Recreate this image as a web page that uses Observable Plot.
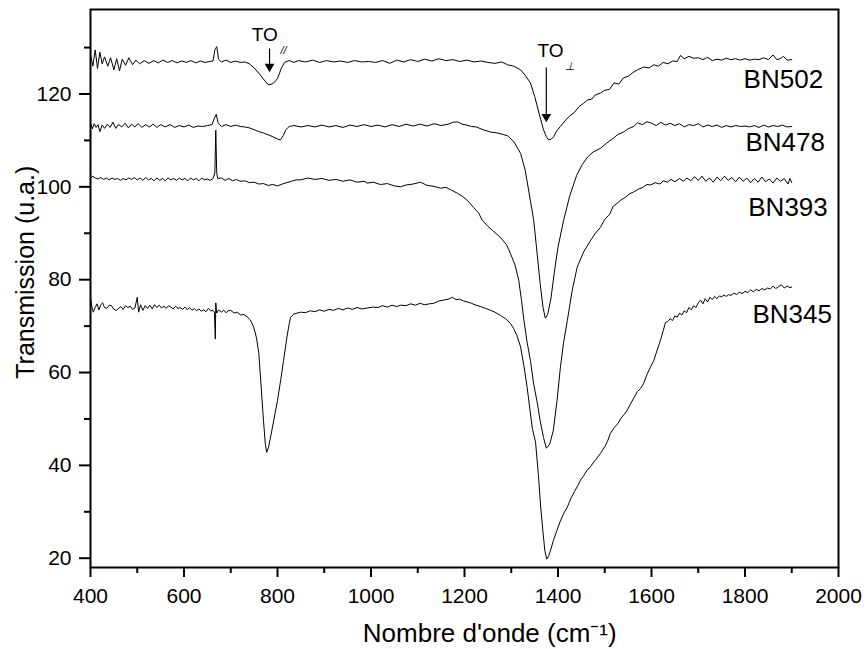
<!DOCTYPE html>
<html>
<head>
<meta charset="utf-8">
<script src="https://cdn.jsdelivr.net/npm/d3@7"></script>
<script src="https://cdn.jsdelivr.net/npm/@observablehq/plot@0.6"></script>
<style>
  html, body { margin: 0; padding: 0; background: #fff; }
  #chart { width: 865px; height: 649px; }
  #chart svg g[aria-label$="tick label"] { font-size: 21px !important; }
  #chart svg g[aria-label$="tick label"] text { font-size: 21px !important; }
</style>
</head>
<body>
<div id="chart"></div>
<script>
// ---- axis ticks ----
const xTicks = [400, 600, 800, 1000, 1200, 1400, 1600, 1800, 2000];
const xMinorTicks = [500, 700, 900, 1100, 1300, 1500, 1700, 1900];
const yTicks = [20, 40, 60, 80, 100, 120];
const yMinorTicks = [30, 50, 70, 90, 110, 130];

// ---- series (wavenumber cm-1, transmission u.a.) ----
const seriesNames = ["BN502", "BN478", "BN393", "BN345"];

const bn502 = [
[400,128.5],[405,126],[410,129.5],[415,125.5],[420,129],[425,126.5],[430,128],[437,126],[443,127.8],[450,125.2],
[456,127.6],[462,125],[468,127.5],[475,126.2],[482,127.8],[490,126.3],[497,127.3],[505,126.5],[515,127.2],[525,126.6],
[535,127.2],[545,126.7],[555,127.3],[565,126.8],[575,127.2],[585,126.7],[595,127.1],[605,126.8],[615,127.2],[625,126.7],
[635,127.1],[645,126.8],[655,127.0],[662,127.1],[666,129.5],[670,130.2],[674,127.5],[680,126.9],[690,127.3],[700,126.8],
[710,127.1],[720,126.8],[730,126.9],[740,126.5],[750,125.6],[760,124.5],[770,123.2],[780,122.0],[790,122.2],[800,123.3],
[808,125.5],[815,126.8],[825,127.2],[835,126.8],[845,127.2],[860,126.9],[875,127.3],[890,126.8],[905,127.2],[920,126.9],
[935,127.1],[950,126.8],[965,127.2],[980,126.9],[995,127.0],[1010,126.8],[1025,127.2],[1040,126.6],[1055,127.3],[1070,126.9],
[1085,127.4],[1100,127.0],[1115,127.5],[1130,127.1],[1145,127.6],[1160,127.2],[1175,127.4],[1190,127.0],[1205,127.3],[1220,126.9],
[1235,127.1],[1250,126.8],[1265,126.6],[1280,126.9],[1292,126.3],[1305,126.0],[1320,125.2],[1330,124.0],[1341,122.4],[1350,119.5],
[1356,117.2],[1363,114.5],[1369,112.3],[1375,110.8],[1380,110.1],[1386,110.3],[1391,110.8],[1397,112.0],[1405,113.0],[1415,114.2],
[1425,115.3],[1435,116.0],[1445,117.3],[1455,118.0],[1463,118.7],[1472,118.9],[1480,119.8],[1491,120.2],[1500,120.8],[1510,121.0],
[1520,122.4],[1530,122.1],[1540,123.5],[1550,123.8],[1560,124.6],[1570,125.2],[1583,125.8],[1595,125.6],[1605,126.3],[1615,126.0],
[1625,126.8],[1635,126.5],[1645,127.1],[1655,127.0],[1662,128.3],[1670,127.6],[1680,128.1],[1690,127.7],[1700,127.8],[1710,127.4],
[1720,127.9],[1730,127.2],[1740,127.5],[1750,127.3],[1760,127.7],[1770,127.4],[1780,127.6],[1790,127.3],[1800,127.6],[1810,127.3],
[1820,127.5],[1830,127.4],[1840,127.8],[1850,127.4],[1860,128.4],[1868,127.4],[1875,127.6],[1882,128.1],[1890,127.3],[1900,127.4]
];

const bn478 = [
[400,113.8],[404,112.5],[408,113.6],[412,112.8],[416,113.4],[420,111.9],[425,113.3],[430,112.6],[436,113.5],[442,112.8],
[448,113.9],[454,112.6],[460,113.4],[467,112.9],[474,113.7],[481,112.7],[488,113.5],[495,112.9],[502,113.6],[510,112.8],
[518,113.4],[526,112.9],[534,113.5],[542,112.8],[550,113.4],[560,112.9],[570,113.4],[580,112.8],[590,113.2],[600,112.9],
[610,113.3],[620,112.8],[630,113.1],[640,113.0],[650,113.2],[660,113.4],[665,114.8],[669,115.6],[673,113.8],[680,113.0],
[690,113.4],[700,113.0],[710,113.3],[720,113.0],[730,112.9],[740,112.7],[750,112.3],[760,111.9],[770,111.6],[780,111.2],
[790,110.8],[800,110.3],[806,110.1],[812,111.0],[818,112.3],[825,113.0],[835,113.2],[850,112.9],[865,113.2],[880,112.9],
[895,113.3],[910,112.9],[925,113.2],[940,112.8],[955,113.3],[970,113.0],[985,113.4],[1000,113.0],[1015,113.3],[1030,112.9],
[1045,113.4],[1060,113.0],[1075,113.5],[1090,113.1],[1105,113.5],[1120,113.1],[1135,113.6],[1150,113.2],[1165,113.5],[1175,113.9],
[1185,114.0],[1195,113.5],[1205,113.3],[1215,113.0],[1225,112.9],[1240,112.3],[1256,111.8],[1270,111.6],[1282,111.3],[1292,111.0],
[1305,109.8],[1320,107.2],[1330,103.5],[1341,97.0],[1348,92.8],[1355,86.0],[1362,79.0],[1368,74.0],[1373,71.7],[1378,72.5],
[1385,76.0],[1392,81.5],[1400,87.0],[1412,92.8],[1425,98.0],[1440,102.5],[1452,104.8],[1463,106.4],[1475,107.5],[1491,108.3],
[1505,109.5],[1515,110.2],[1527,111.2],[1540,111.8],[1550,112.5],[1562,113.0],[1570,113.8],[1580,113.4],[1590,114.0],[1598,113.8],
[1610,113.2],[1620,113.9],[1630,113.3],[1640,113.7],[1650,113.2],[1660,113.6],[1670,112.9],[1680,113.4],[1690,113.2],[1700,113.6],
[1710,112.9],[1720,113.3],[1730,113.0],[1740,113.3],[1750,112.8],[1760,113.2],[1770,112.9],[1780,113.2],[1790,113.0],[1800,113.1],
[1810,112.9],[1820,113.2],[1830,112.8],[1840,113.3],[1850,112.9],[1860,113.2],[1870,113.0],[1880,113.3],[1890,112.9],[1900,113.0]
];

const bn393 = [
[400,101.8],[405,102.3],[410,101.9],[416,101.7],[422,102.0],[428,101.6],[434,101.9],[440,101.5],[446,101.9],[452,101.6],
[458,101.8],[464,101.4],[470,101.8],[476,101.5],[482,101.9],[488,101.6],[494,102.0],[500,101.5],[506,101.9],[512,101.4],
[518,102.0],[524,101.5],[530,101.8],[536,101.3],[542,101.9],[548,101.4],[554,101.8],[560,101.3],[566,101.9],[572,101.5],
[578,101.8],[584,101.4],[590,101.9],[596,101.5],[602,101.8],[608,101.3],[614,101.9],[620,101.5],[626,101.8],[632,101.3],
[638,101.9],[644,101.5],[650,101.7],[656,101.4],[662,101.8],[666,103.0],[668,112.2],[670,103.0],[672,101.8],[680,101.9],
[688,101.4],[696,101.8],[704,101.3],[712,101.6],[720,101.2],[730,101.3],[740,100.9],[750,101.0],[760,100.6],[770,100.7],
[780,100.3],[790,100.5],[800,100.2],[810,100.6],[820,100.9],[830,101.2],[840,101.5],[850,101.5],[865,101.9],[880,101.6],
[895,101.8],[910,101.4],[925,101.6],[940,101.2],[955,101.5],[970,101.0],[985,101.2],[992,100.8],[1005,101.0],[1020,100.5],
[1035,100.7],[1050,100.2],[1063,100.0],[1075,100.4],[1090,100.6],[1106,101.0],[1120,100.3],[1135,100.1],[1149,99.7],[1160,99.9],
[1172,99.3],[1185,98.6],[1195,98.0],[1205,97.2],[1219,95.6],[1230,94.4],[1238,92.8],[1250,91.5],[1260,90.6],[1277,89.1],
[1290,87.5],[1298,85.7],[1308,83.2],[1316,79.9],[1322,75.5],[1327,71.3],[1334,66.5],[1341,62.6],[1348,57.5],[1356,53.3],
[1362,49.5],[1369,46.0],[1375,43.7],[1382,44.5],[1390,47.5],[1398,54.0],[1405,61.0],[1412,66.5],[1420,71.2],[1430,77.5],
[1441,82.7],[1455,86.0],[1470,88.5],[1480,90.0],[1491,91.3],[1500,93.0],[1510,94.0],[1518,95.8],[1527,96.5],[1535,97.2],
[1545,97.8],[1553,98.5],[1562,98.9],[1572,99.5],[1580,99.8],[1590,100.5],[1598,100.4],[1608,100.9],[1618,100.6],[1625,101.3],
[1634,101.0],[1642,101.6],[1650,101.1],[1660,101.8],[1668,101.2],[1676,101.9],[1684,101.3],[1692,102.2],[1700,101.4],[1708,102.3],
[1716,101.2],[1724,101.9],[1732,101.0],[1740,102.1],[1748,101.3],[1756,102.3],[1764,101.4],[1772,102.0],[1780,101.1],[1788,102.1],
[1796,101.2],[1804,101.9],[1812,100.9],[1820,101.8],[1828,101.0],[1836,102.1],[1844,101.1],[1852,101.7],[1860,100.8],[1868,101.9],
[1876,101.2],[1884,101.8],[1892,100.6],[1896,101.8],[1900,100.9]
];

const bn345 = [
[400,76.0],[403,74.2],[406,73.0],[410,74.0],[414,74.8],[418,73.5],[422,74.6],[426,75.0],[430,74.0],[435,73.8],
[440,74.5],[445,74.4],[450,73.6],[455,73.4],[460,73.8],[465,74.2],[470,73.6],[475,74.4],[480,74.0],[485,74.3],
[490,73.6],[495,73.9],[500,76.2],[503,73.0],[507,74.6],[512,73.4],[517,74.4],[522,73.8],[527,74.5],[532,73.7],
[537,74.6],[542,74.0],[547,74.5],[552,73.9],[557,74.3],[562,73.8],[567,74.4],[572,74.1],[577,73.7],[582,74.3],
[587,73.8],[592,74.0],[597,73.6],[602,74.1],[607,73.5],[612,74.0],[617,73.4],[622,73.8],[627,73.3],[632,73.7],
[637,73.2],[642,73.5],[647,73.1],[652,73.8],[657,73.3],[662,73.4],[665,73.0],[667,67.2],[668,75.0],[670,72.8],
[674,73.5],[680,73.0],[685,73.4],[690,72.9],[695,73.3],[700,73.4],[707,72.8],[714,73.0],[721,72.4],[728,72.5],
[735,72.0],[742,71.3],[749,69.8],[755,67.5],[760,64.2],[765,57.0],[770,49.7],[774,44.5],[777,42.8],[781,44.0],
[786,46.5],[792,49.7],[800,54.0],[807,58.5],[813,62.6],[820,67.5],[825,70.5],[828,71.9],[835,72.6],[842,72.8],
[849,73.0],[860,72.9],[870,73.3],[880,73.1],[890,73.5],[900,73.2],[910,73.6],[920,73.4],[930,73.8],[940,73.5],
[950,73.9],[960,73.6],[970,74.0],[980,73.7],[992,73.9],[1005,74.1],[1015,74.0],[1025,74.4],[1035,74.1],[1045,74.5],
[1055,74.2],[1063,74.5],[1075,74.4],[1085,74.8],[1095,74.5],[1105,74.9],[1115,74.6],[1125,74.8],[1134,74.9],[1145,75.4],
[1155,75.6],[1165,75.8],[1174,76.2],[1182,75.7],[1190,75.8],[1198,75.4],[1206,75.2],[1215,74.9],[1225,74.5],[1235,74.2],
[1245,73.8],[1256,73.4],[1265,73.0],[1277,72.3],[1288,71.6],[1298,70.6],[1305,69.5],[1312,68.0],[1320,65.5],[1327,61.5],
[1334,56.8],[1340,52.0],[1345,48.0],[1352,45.0],[1358,38.0],[1363,31.0],[1368,25.5],[1372,21.5],[1376,19.8],[1380,20.5],
[1385,22.0],[1390,23.8],[1397,25.8],[1405,28.0],[1413,29.8],[1420,31.0],[1428,33.0],[1435,34.3],[1442,35.6],[1448,36.8],
[1455,37.8],[1462,38.9],[1470,39.8],[1478,40.9],[1485,41.8],[1491,42.6],[1500,44.0],[1506,45.2],[1512,46.9],[1520,48.1],
[1528,49.0],[1535,50.2],[1542,51.0],[1548,51.9],[1555,53.2],[1562,54.5],[1570,55.9],[1576,56.5],[1583,57.6],[1590,59.5],
[1597,61.0],[1605,62.6],[1612,64.8],[1619,66.9],[1625,69.0],[1630,70.8],[1635,71.0],[1640,71.6],[1645,71.2],[1650,72.2],
[1655,71.9],[1660,72.8],[1665,72.4],[1670,73.3],[1675,72.9],[1680,74.0],[1685,73.5],[1690,74.4],[1695,74.0],[1700,75.0],
[1705,75.6],[1710,74.8],[1715,75.9],[1720,75.2],[1725,76.2],[1730,75.7],[1735,76.4],[1740,75.9],[1745,76.5],[1750,76.3],
[1755,76.7],[1760,76.4],[1765,76.8],[1770,76.6],[1776,77.1],[1782,76.8],[1788,77.3],[1794,77.0],[1800,77.5],[1806,77.2],
[1812,77.8],[1818,77.4],[1824,77.9],[1830,77.6],[1836,78.1],[1842,77.8],[1848,78.2],[1854,78.0],[1860,78.6],[1866,78.1],
[1872,78.5],[1878,78.9],[1884,78.2],[1890,78.6],[1896,78.3],[1900,78.4]
];

// series label anchors (data units)
const labelX = [1797, 1801, 1807, 1816];
const labelY = [123.0, 109.6, 95.6, 72.4];

// peak annotations
const peakNames = ["TO", "TO"];
const peakSubs = ["//", "\u22A5"];
const peakTextX = [773, 1384];
const peakTextY = [132.7, 129.2];
const peakSubX = [813, 1426];
const peakSubY = [129.4, 126.0];
const arrowX = [783, 1375];
const arrowTop = [129.7, 125.6];
const arrowTip = [124.6, 113.8];

// axis titles and their anchors (data units)
const xLabel = "Nombre d'onde (cm\u207B\u00B9)";
const yLabel = "Transmission (u.a.)";
const xLabelPos = [1254, 3.7];
const yLabelPos = [263, 81.6];

// ---- build ----
const allSeries = [bn502, bn478, bn393, bn345];
const rows = seriesNames.flatMap((name, i) => allSeries[i].map(([x, y]) => ({name, x, y})));
const arrows = arrowX.map((x, i) => ({x, top: arrowTop[i], tip: arrowTip[i], head: arrowTip[i] + 1.3}));

const FONT = "'Liberation Sans', Arial, Helvetica, sans-serif";

const chart = Plot.plot({
  width: 865,
  height: 649,
  marginLeft: 90,
  marginRight: 27,
  marginTop: 9,
  marginBottom: 82,
  style: {fontFamily: FONT, fontSize: "21px", background: "#fff", color: "#000"},
  x: {domain: [400, 2000]},
  y: {domain: [18, 138.2]},
  marks: [
    Plot.line(rows, {x: "x", y: "y", z: "name", stroke: "#000", strokeWidth: 1}),
    Plot.frame({stroke: "#000", strokeWidth: 2}),
    Plot.axisX(xTicks, {tickSize: 10, tickPadding: 11, fontSize: 21, strokeWidth: 2, label: null, tickFormat: d => String(d)}),
    Plot.axisX(xMinorTicks, {tickSize: 6, text: null, strokeWidth: 2, label: null}),
    Plot.axisY(yTicks, {tickSize: 11, tickPadding: 8, fontSize: 21, strokeWidth: 2, label: null, tickFormat: d => String(d)}),
    Plot.axisY(yMinorTicks, {tickSize: 6, text: null, strokeWidth: 2, label: null}),
    Plot.text(seriesNames, {x: (d, i) => labelX[i], y: (d, i) => labelY[i], text: d => d, textAnchor: "start", fontSize: 26}),
    Plot.text(peakNames, {x: (d, i) => peakTextX[i], y: (d, i) => peakTextY[i], text: d => d, fontSize: 19}),
    Plot.text(peakSubs, {x: (d, i) => peakSubX[i], y: (d, i) => peakSubY[i], text: d => d, fontSize: 11, fontStyle: "italic"}),
    Plot.ruleX(arrows, {x: "x", y1: "top", y2: "head", stroke: "#000", strokeWidth: 1.2}),
    Plot.dot(arrows, {x: "x", y: "head", symbol: "triangle", r: 3.6, fill: "#000", stroke: null, rotate: 180}),
    Plot.text([xLabel], {x: () => xLabelPos[0], y: () => xLabelPos[1], fontSize: 26, lineAnchor: "middle"}),
    Plot.text([yLabel], {x: () => yLabelPos[0], y: () => yLabelPos[1], rotate: -90, fontSize: 25, lineAnchor: "middle"})
  ]
});

// make sure tick labels get the intended size
chart.querySelectorAll('g[aria-label$="tick label"]').forEach(g => {
  g.setAttribute("font-size", "21");
  g.querySelectorAll("text").forEach(t => t.setAttribute("font-size", "21"));
});

document.getElementById("chart").appendChild(chart);
</script>
</body>
</html>
